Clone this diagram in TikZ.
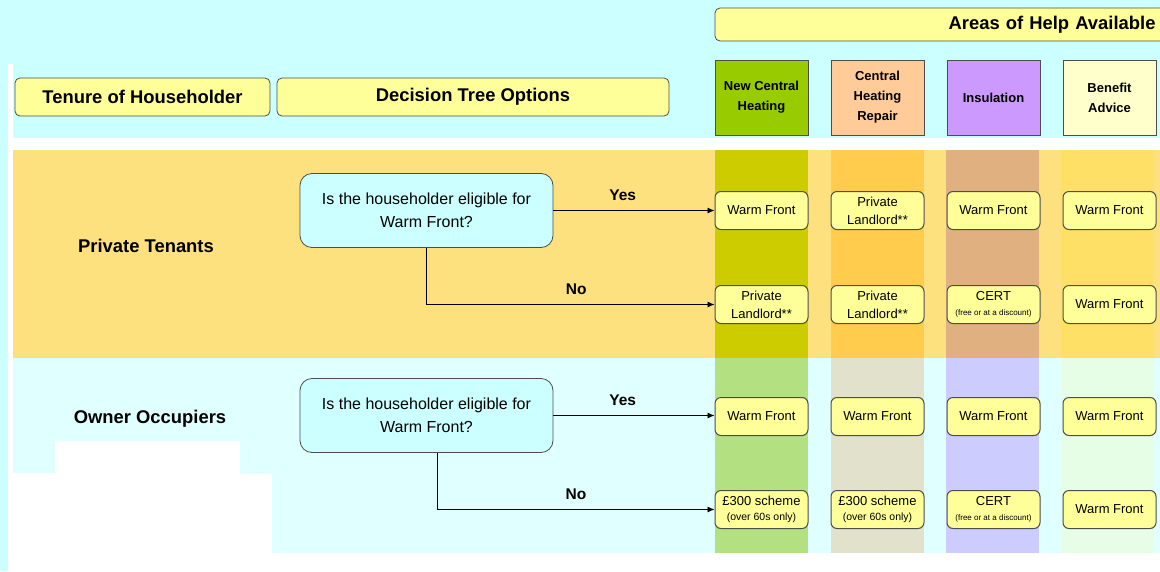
\documentclass[tikz,border=0pt]{standalone}
\usepackage{fontspec}
\setmainfont{Liberation Sans}
\usetikzlibrary{positioning,arrows.meta}

\definecolor{skycyan}{HTML}{CCFFFF}
\definecolor{palecyan}{HTML}{E0FFFF}
\definecolor{tenantband}{HTML}{FDE17F}
\definecolor{boxyellow}{HTML}{FFFF99}
\definecolor{boxline}{HTML}{4D4D4D}
\definecolor{hdgreen}{HTML}{99CC00}
\definecolor{hdpeach}{HTML}{FFCC99}
\definecolor{hdpurple}{HTML}{CC99FF}
\definecolor{hdcream}{HTML}{FFFFCC}
\definecolor{ptgreen}{HTML}{CCCC00}
\definecolor{ptpeach}{HTML}{FFCC4D}
\definecolor{ptpurple}{HTML}{E0B080}
\definecolor{ptcream}{HTML}{FFE066}
\definecolor{oogreen}{HTML}{B3E080}
\definecolor{oopeach}{HTML}{E2E2CC}
\definecolor{oopurple}{HTML}{CCCCFF}
\definecolor{oocream}{HTML}{E6FDE6}
\newcommand{\subnote}[1]{{\fontsize{8}{9}\selectfont #1}}
\newcommand{\overnote}[1]{{\fontsize{10.5}{12}\selectfont #1}}

\begin{document}
\begin{tikzpicture}[x=1pt,y=-1pt,
  hdr/.style={draw=boxline,fill=boxyellow,rounded corners=5pt,line width=0.8pt,
    minimum height=38pt,font=\bfseries\fontsize{18.4}{22}\selectfont},
  colhdr/.style={draw=boxline,line width=1pt,minimum width=93pt,minimum height=75pt,
    align=center,font=\bfseries\fontsize{13}{20}\selectfont},
  ask/.style={draw=boxline,fill=skycyan,rounded corners=12pt,line width=0.8pt,
    minimum width=253pt,minimum height=74pt,align=center,font=\fontsize{16}{23}\selectfont},
  help/.style={draw=boxline,fill=boxyellow,rounded corners=6pt,line width=1pt,
    minimum width=93pt,minimum height=38pt,align=center,inner sep=1pt,
    font=\fontsize{13}{18}\selectfont},
  tenure/.style={font=\bfseries\fontsize{18.4}{22}\selectfont},
  answer/.style={font=\bfseries\fontsize{15.5}{18}\selectfont},
  link/.style={-{Latex[length=7pt,width=6pt]},line width=0.8pt}]

  \useasboundingbox (0,0) rectangle (1160,571);

  % backdrop
  \fill[skycyan] (0,0) rectangle (1160,571);
  \fill[white] (8,64) rectangle (13,571);
  \fill[white] (8,138) rectangle (1160,150);
  \fill[tenantband] (13,150) rectangle (1160,358);
  \fill[palecyan] (13,358) rectangle (1160,553);
  \foreach \x/\ca/\cb in {715/ptgreen/oogreen,831/ptpeach/oopeach,
                          946/ptpurple/oopurple,1061/ptcream/oocream}
    {\fill[\ca] (\x,150) rectangle +(93,208);
     \fill[\cb] (\x,358) rectangle +(93,195);}
  \fill[white] (8,473) -| (55,441) -| (240,474) -| (272,553) -| (1160,571)
    -- (8,571) -- cycle;

  % headings
  \node (areas) [hdr,minimum width=455pt,minimum height=33pt,text width=426pt,
    align=right] at (942.5,24.5) {Areas of Help Available};
  \node (tenurehd) [hdr,minimum width=255pt] at (142.5,97) {Tenure of Householder};
  \node (treehd) [hdr,minimum width=392pt] at (473,97) {Decision Tree Options};

  \node (newch) [colhdr,fill=hdgreen] at (761.5,97.5) {New Central\\Heating};
  \node (repair) [colhdr,fill=hdpeach,right=22pt of newch] {Central\\Heating\\Repair};
  \node (insul) [colhdr,fill=hdpurple,right=22pt of repair] {Insulation};
  \node (benefit) [colhdr,fill=hdcream,right=22pt of insul] {Benefit\\Advice};

  % tenures
  \node (pt) [tenure] at (146,246) {Private Tenants};
  \node (oo) [tenure] at (150,419) {Owner Occupiers};

  \node (ptask) [ask] at (426.5,210.5) {Is the householder eligible for\\Warm Front?};
  \node (ooask) [ask] at (426.5,415.5) {Is the householder eligible for\\Warm Front?};

  \coordinate (ptno) at (0,304.5);
  \coordinate (ooyes) at (0,416.5);
  \coordinate (oono) at (0,509.5);

  % private tenants
  \node (pt1) [help] at (newch |- ptask) {Warm Front};
  \node (pt1b) [help] at (repair |- ptask) {Private\\Landlord**};
  \node (pt1c) [help] at (insul |- ptask) {Warm Front};
  \node (pt1d) [help] at (benefit |- ptask) {Warm Front};

  \node (pt2) [help] at (newch |- ptno) {Private\\Landlord**};
  \node (pt2b) [help] at (repair |- ptno) {Private\\Landlord**};
  \node (pt2c) [help] at (insul |- ptno) {CERT\\[-3pt]\subnote{(free or at a discount)}};
  \node (pt2d) [help] at (benefit |- ptno) {Warm Front};

  % owner occupiers
  \node (oo1) [help] at (newch |- ooyes) {Warm Front};
  \node (oo1b) [help] at (repair |- ooyes) {Warm Front};
  \node (oo1c) [help] at (insul |- ooyes) {Warm Front};
  \node (oo1d) [help] at (benefit |- ooyes) {Warm Front};

  \node (oo2) [help] at (newch |- oono) {£300 scheme\\[-3pt]\overnote{(over 60s only)}};
  \node (oo2b) [help] at (repair |- oono) {£300 scheme\\[-3pt]\overnote{(over 60s only)}};
  \node (oo2c) [help] at (insul |- oono) {CERT\\[-3pt]\subnote{(free or at a discount)}};
  \node (oo2d) [help] at (benefit |- oono) {Warm Front};

  \draw [link] (ptask.east) -- node[answer,above=6pt,pos=0.43] {Yes} (ptask.east -| pt1.west);
  \draw [link] (ptask.south) |- node[answer,above=6pt,pos=0.76] {No} (pt2.west);

  \draw [link] (ooask.east) -- node[answer,above=6pt,pos=0.43] {Yes} (ooask.east -| oo1.west);
  \draw [link] ([xshift=11pt]ooask.south) |- node[answer,above=6pt,pos=0.75] {No} (oo2.west);
\end{tikzpicture}
\end{document}
